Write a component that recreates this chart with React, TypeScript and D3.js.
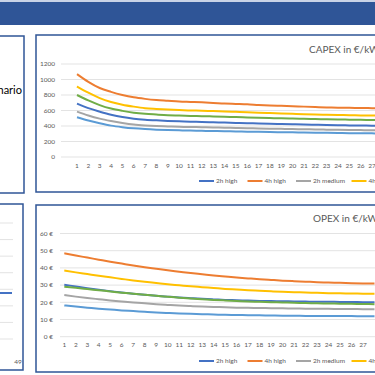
import React from "react";
import * as d3 from "d3";

const seriesNames = ["2h high", "4h high", "2h medium", "4h medium", "2h low", "4h low"];
const seriesColors = ["#4472C4", "#ED7D31", "#A5A5A5", "#FFC000", "#5B9BD5", "#70AD47"];
const years = d3.range(1, 29);

const capex2hHigh = [688, 630, 585, 545, 515, 495, 482, 473, 466, 460, 456, 452, 448, 444, 440, 436, 432, 428, 425, 422, 419, 416, 413, 410, 408, 406, 404, 402];
const capex4hHigh = [1070, 970, 890, 840, 800, 770, 750, 735, 725, 715, 710, 705, 698, 690, 685, 680, 672, 665, 660, 655, 650, 645, 640, 637, 635, 632, 630, 628];
const capex2hMedium = [585, 535, 495, 465, 440, 420, 408, 400, 395, 390, 387, 384, 381, 378, 375, 372, 369, 366, 363, 360, 358, 355, 353, 351, 349, 347, 345, 344];
const capex4hMedium = [910, 830, 760, 710, 675, 650, 630, 620, 612, 605, 600, 597, 592, 588, 583, 578, 572, 567, 562, 557, 552, 548, 545, 542, 540, 537, 535, 533];
const capex2hLow = [512, 470, 435, 405, 385, 370, 360, 353, 348, 344, 341, 338, 335, 332, 330, 327, 325, 322, 320, 318, 316, 314, 312, 310, 308, 307, 305, 304];
const capex4hLow = [800, 730, 670, 625, 595, 572, 557, 548, 540, 535, 530, 527, 523, 519, 515, 511, 507, 503, 499, 496, 493, 490, 487, 484, 482, 480, 478, 476];

const opex2hHigh = [30.2, 29.2, 28.2, 27.3, 26.5, 25.7, 25, 24.4, 23.8, 23.3, 22.8, 22.4, 22, 21.7, 21.4, 21.2, 21, 20.8, 20.7, 20.6, 20.5, 20.4, 20.3, 20.3, 20.2, 20.2, 20.1, 20.1];
const opex4hHigh = [48.5, 47.2, 46, 44.8, 43.6, 42.5, 41.4, 40.4, 39.5, 38.6, 37.8, 37, 36.3, 35.6, 35, 34.4, 33.9, 33.4, 33, 32.6, 32.3, 32, 31.7, 31.5, 31.3, 31.1, 31, 30.9];
const opex2hMedium = [24.2, 23.3, 22.5, 21.8, 21.1, 20.5, 19.9, 19.4, 18.9, 18.5, 18.1, 17.8, 17.5, 17.3, 17.1, 16.9, 16.8, 16.7, 16.6, 16.5, 16.4, 16.3, 16.2, 16.2, 16.1, 16.1, 16, 16];
const opex4hMedium = [38.5, 37.4, 36.4, 35.4, 34.5, 33.6, 32.7, 31.9, 31.2, 30.5, 29.9, 29.3, 28.8, 28.3, 27.8, 27.4, 27, 26.7, 26.4, 26.1, 25.9, 25.7, 25.5, 25.3, 25.2, 25.1, 25, 24.9];
const opex2hLow = [18.2, 17.5, 16.9, 16.3, 15.8, 15.3, 14.9, 14.5, 14.1, 13.8, 13.5, 13.3, 13.1, 12.9, 12.7, 12.6, 12.5, 12.4, 12.3, 12.2, 12.2, 12.1, 12.1, 12, 12, 12, 11.9, 11.9];
const opex4hLow = [29, 28.4, 27.7, 27, 26.3, 25.6, 25, 24.4, 23.8, 23.2, 22.7, 22.2, 21.8, 21.4, 21.1, 20.8, 20.5, 20.3, 20.1, 19.9, 19.7, 19.6, 19.4, 19.3, 19.2, 19.1, 19, 18.9];

const capexTicks = [0, 200, 400, 600, 800, 1000, 1200];
const opexTicks = [0, 10, 20, 30, 40, 50, 60];
const xLabels = d3.range(1, 28);

const capexSeries = [capex2hHigh, capex4hHigh, capex2hMedium, capex4hMedium, capex2hLow, capex4hLow];
const opexSeries = [opex2hHigh, opex4hHigh, opex2hMedium, opex4hMedium, opex2hLow, opex4hLow];

const FONT = "Lato, 'Open Sans', sans-serif";
const BORDER = "#2F5597";

type ChartProps = {
  title: string;
  series: number[][];
  ticks: number[];
  fmt: (v: number) => string;
  x0: number; x1: number; y0: number; y1: number; ymax: number;
  gridLeft: number; labelRight: number; xLabelY: number; titleX: number; titleY: number; legendY: number;
};

function LineChart(p: ChartProps) {
  const x = d3.scaleLinear().domain([1, 27]).range([p.x0, p.x1]);
  const y = d3.scaleLinear().domain([0, p.ymax]).range([p.y0, p.y1]);
  const line = d3.line<number>().x((_, i) => x(years[i])).y((d) => y(d)).curve(d3.curveMonotoneX);
  const cw = 3.5;
  let lx = 199;
  const legendItems = seriesNames.map((n, i) => {
    const item = { n, c: seriesColors[i], x: lx };
    lx += 17 + n.length * cw + 7;
    return item;
  });
  return (
    <g>
      <text x={p.titleX} y={p.titleY} dy="0.35em" fontSize={10} fill="#595959" fontFamily={FONT}>{p.title}</text>
      {p.ticks.map((t) => (
        <g key={t}>
          <line x1={p.gridLeft} x2={380} y1={y(t)} y2={y(t)} stroke="#D9D9D9" strokeWidth={0.75} />
          <text x={p.labelRight} y={y(t)} dy="0.35em" textAnchor="end" fontSize={6.5} fill="#595959" fontFamily={FONT}>{p.fmt(t)}</text>
        </g>
      ))}
      {xLabels.map((v) => (
        <text key={v} x={x(v)} y={p.xLabelY} dy="0.35em" textAnchor="middle" fontSize={6.5} fill="#595959" fontFamily={FONT}>{v}</text>
      ))}
      {p.series.map((s, i) => (
        <path key={i} d={line(s) || ""} fill="none" stroke={seriesColors[i]} strokeWidth={2} />
      ))}
      {legendItems.map((it) => (
        <g key={it.n}>
          <line x1={it.x} x2={it.x + 15} y1={p.legendY} y2={p.legendY} stroke={it.c} strokeWidth={2} />
          <text x={it.x + 17} y={p.legendY} dy="0.35em" fontSize={6.5} fill="#595959" fontFamily={FONT}>{it.n}</text>
        </g>
      ))}
    </g>
  );
}

const leftGrid = [0, 1, 2, 3, 4, 5, 6, 7];

export default function App() {
  const lg = d3.scaleLinear().domain([0, 7]).range([223, 339]);
  return (
    <div style={{ position: "fixed", left: 0, top: 0 }}>
      <svg width={375} height={375} style={{ display: "block", background: "#fff" }}>
        <rect x={0} y={0} width={375} height={2} fill="#C9D3E6" />
        <rect x={0} y={2} width={375} height={23} fill="#2F5597" />

        {/* left top partial panel */}
        <rect x={-10} y={36} width={34} height={157} fill="#fff" stroke={BORDER} strokeWidth={1.5} />
        <text x={22} y={94} textAnchor="end" fontSize={11} fill="#000" fontFamily={FONT}>Scenario</text>

        {/* left bottom partial panel */}
        <rect x={-10} y={204} width={33} height={166} fill="#fff" stroke={BORDER} strokeWidth={1.5} />
        {leftGrid.map((g) => (
          <line key={g} x1={0} x2={13} y1={lg(g)} y2={lg(g)} stroke="#D9D9D9" strokeWidth={0.75} />
        ))}
        <line x1={0} x2={12} y1={293} y2={293} stroke="#4472C4" strokeWidth={2} />
        <text x={18} y={362} dy="0.35em" textAnchor="middle" fontSize={6.5} fill="#595959" fontFamily={FONT}>49</text>

        {/* top chart */}
        <rect x={36} y={35} width={400} height={157} fill="#fff" stroke={BORDER} strokeWidth={1.5} />
        <LineChart title="CAPEX in €/kW" series={capexSeries} ticks={capexTicks} fmt={(v) => String(v)}
          x0={77} x1={372} y0={157} y1={64} ymax={1200} gridLeft={61} labelRight={55}
          xLabelY={166} titleX={309} titleY={49} legendY={181} />

        {/* bottom chart */}
        <rect x={36} y={205} width={400} height={167} fill="#fff" stroke={BORDER} strokeWidth={1.5} />
        <LineChart title="OPEX in €/kW" series={opexSeries} ticks={opexTicks} fmt={(v) => `${v} €`}
          x0={64.3} x1={363} y0={336.7} y1={233.5} ymax={60} gridLeft={60} labelRight={53}
          xLabelY={345} titleX={313} titleY={218} legendY={361} />
      </svg>
    </div>
  );
}
